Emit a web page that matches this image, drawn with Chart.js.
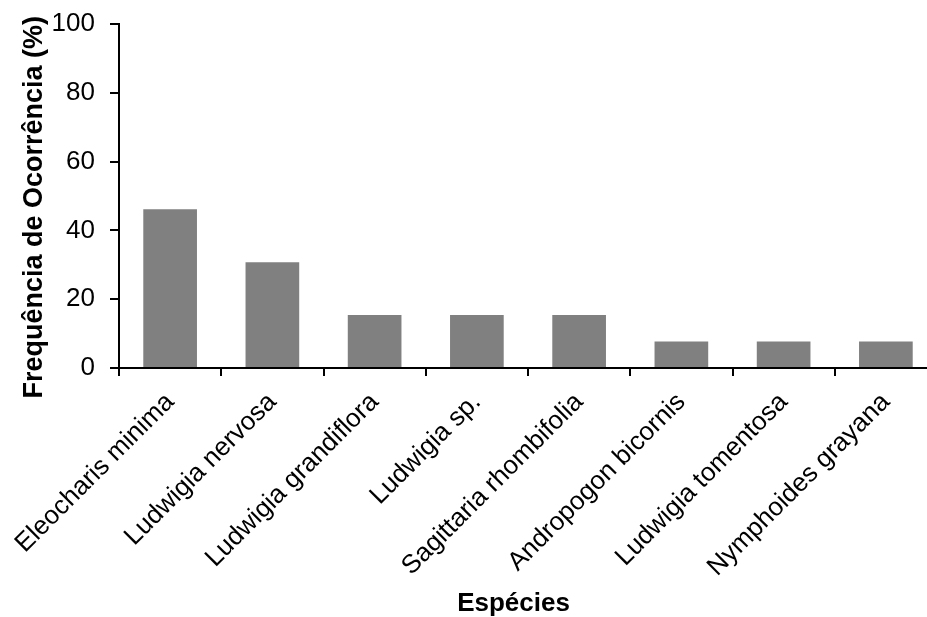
<!DOCTYPE html>
<html>
<head>
<meta charset="utf-8">
<script src="https://cdn.jsdelivr.net/npm/chart.js@4"></script>
<style>
  html, body { margin: 0; padding: 0; background: #fff; overflow: hidden; }
  #wrap { width: 940px; height: 617px; }
</style>
</head>
<body>
<div id="wrap"><canvas id="c" width="940" height="617"></canvas></div>
<script>
// Species and their frequency of occurrence (%)
const species = [
  'Eleocharis minima',
  'Ludwigia nervosa',
  'Ludwigia grandiflora',
  'Ludwigia sp.',
  'Sagittaria rhombifolia',
  'Andropogon bicornis',
  'Ludwigia tomentosa',
  'Nymphoides grayana'
];
const frequency = [46.15, 30.77, 15.38, 15.38, 15.38, 7.69, 7.69, 7.69];
const yTicks = [0, 20, 40, 60, 80, 100];

const FONT = "'Liberation Sans', Arial, sans-serif";

new Chart(document.getElementById('c'), {
  type: 'bar',
  data: {
    labels: species,
    datasets: [{
      data: frequency,
      backgroundColor: '#808080',
      borderWidth: 0,
      barPercentage: 0.525,
      categoryPercentage: 1.0
    }]
  },
  options: {
    responsive: false,
    devicePixelRatio: 1,
    animation: false,
    layout: { padding: { top: 24, right: 3, bottom: 0, left: 0 } },
    plugins: { legend: { display: false }, tooltip: { enabled: false } },
    scales: {
      x: {
        offset: true,
        border: { display: true, color: '#000', width: 2 },
        grid: {
          display: true, drawOnChartArea: false, drawTicks: true,
          tickLength: 8, color: '#000', lineWidth: 2, offset: true
        },
        ticks: {
          autoSkip: false, minRotation: 45, maxRotation: 45,
          color: '#000', padding: 11,
          font: { family: FONT, size: 26 }
        },
        title: {
          display: true, text: 'Espécies    ', color: '#000',
          font: { family: FONT, size: 26, weight: 'bold' },
          padding: { top: 0, bottom: -2 }
        },
        afterFit: (s) => { s.height = 249; s.paddingLeft = 0; s.paddingRight = 0; }
      },
      y: {
        min: 0, max: 100,
        border: { display: true, color: '#000', width: 2 },
        grid: {
          display: true, drawOnChartArea: false, drawTicks: true,
          tickLength: 9, color: '#000', lineWidth: 2
        },
        afterBuildTicks: (s) => { s.ticks = yTicks.map(v => ({ value: v })); },
        ticks: {
          color: '#000', padding: 15,
          font: { family: FONT, size: 26 }
        },
        title: {
          display: true, text: 'Frequência de Ocorrência (%)   ', color: '#000',
          font: { family: FONT, size: 27, weight: 'bold' },
          padding: { top: 18, bottom: 0 }
        },
        afterFit: (s) => { s.width = 119; s.paddingTop = 0; s.paddingBottom = 0; }
      }
    }
  }
});
</script>
</body>
</html>
